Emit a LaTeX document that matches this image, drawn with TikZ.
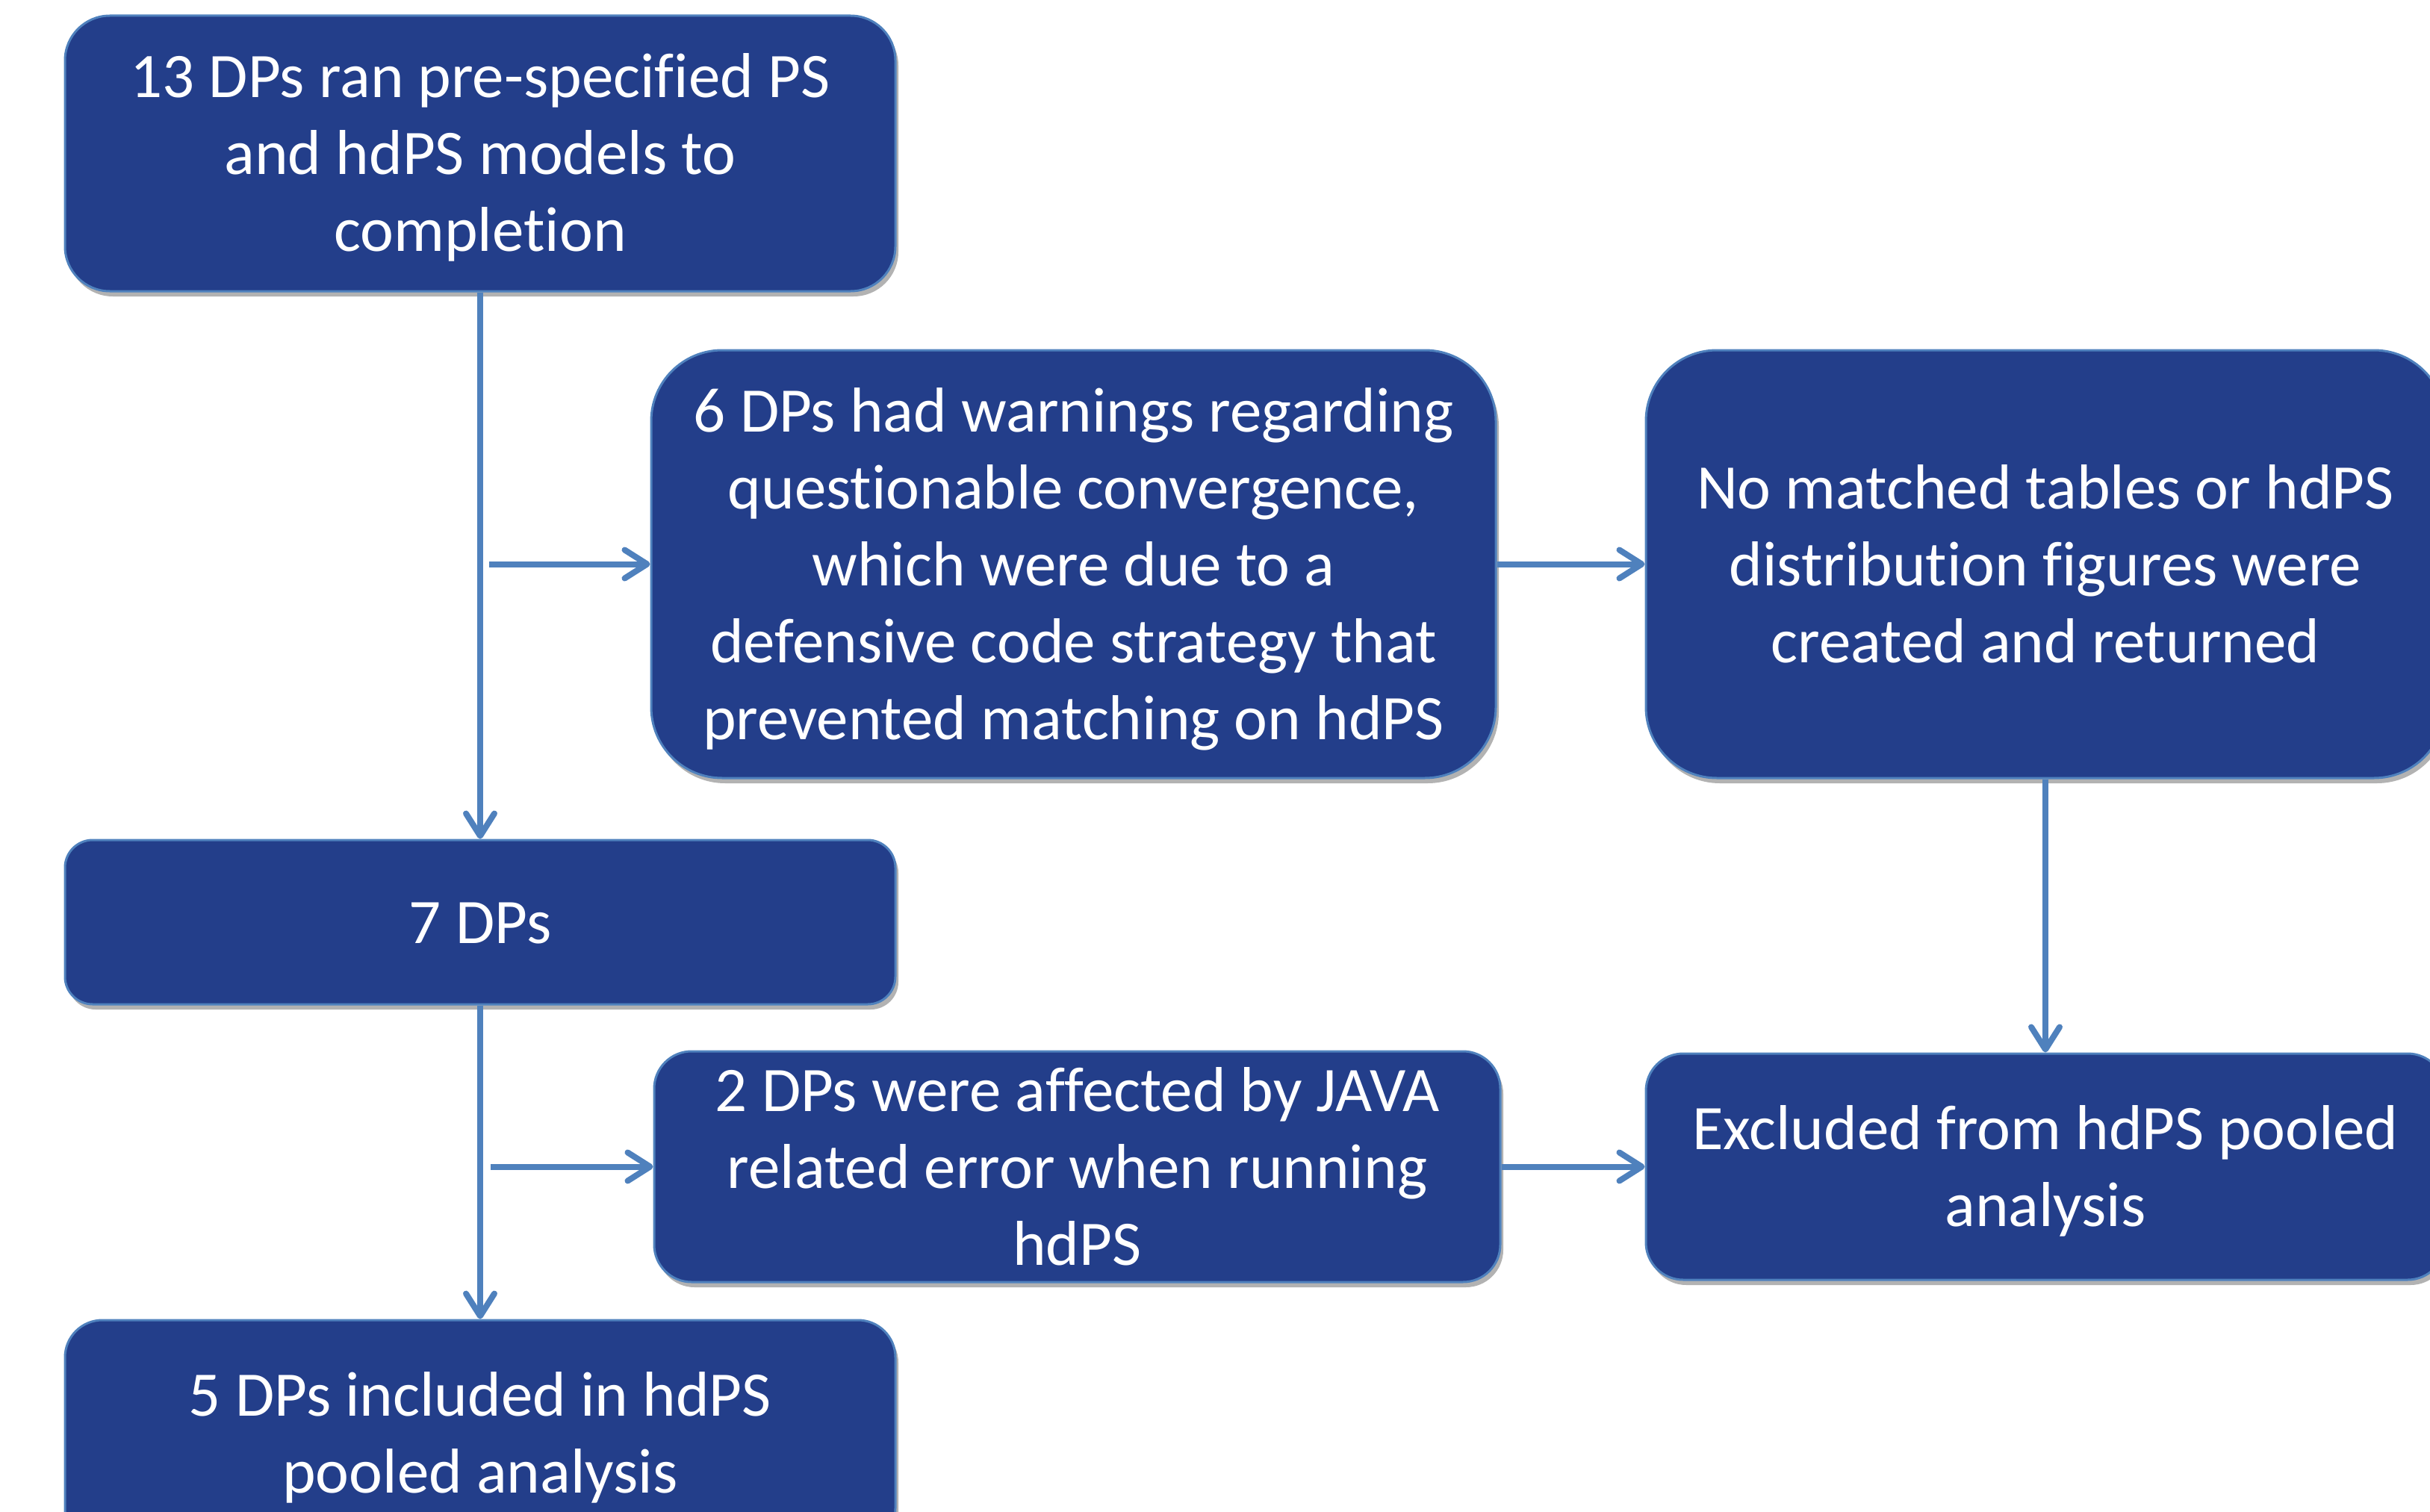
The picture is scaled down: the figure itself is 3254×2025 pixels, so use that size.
\documentclass[tikz,border=0pt]{standalone}
\usepackage{fontspec}
\setmainfont{Carlito}[Ligatures={NoCommon}]
\usetikzlibrary{arrows.meta,shadows}
\definecolor{boxblue}{HTML}{233E8A}
\definecolor{lineblue}{HTML}{4F81BD}
\newcommand{\hiStrut}{\rule{0pt}{80pt}}
\newcommand{\loStrut}{\rule[-23pt]{0pt}{23pt}}
\tikzset{
  flowbox/.style={rectangle, fill=boxblue, draw=lineblue, line width=3pt,
    text=white, align=center, inner sep=0pt,
    font=\fontsize{85}{103}\selectfont,
    drop shadow={shadow xshift=4pt, shadow yshift=-7pt, opacity=0.3, fill=black}},
  flowarrow/.style={draw=lineblue, line width=8pt,
    -{Straight Barb[length=30pt,width=38pt,round]}}
}
\begin{document}
\begin{tikzpicture}[x=1pt,y=-1pt]
\useasboundingbox (0,0) rectangle (3254,2025);
\clip (0,0) rectangle (3254,2025);
\node[flowbox, minimum width=1112pt, minimum height=369pt, rounded corners=60pt] (A) at (643,205.5)
  {\hiStrut 13 DPs ran pre-specified PS\\and hdPS models to\\completion\loStrut};
\node[flowbox, minimum width=1131pt, minimum height=573pt, rounded corners=95pt] (B) at (1437.5,755.5)
  {\hiStrut 6 DPs had warnings regarding\\questionable convergence,\\which were due to a\\defensive code strategy that\\prevented matching on hdPS\loStrut};
\node[flowbox, minimum width=1070pt, minimum height=573pt, rounded corners=95pt] (C) at (2739,755.5)
  {\hiStrut No matched tables or hdPS\\distribution figures were\\created and returned\loStrut};
\node[flowbox, minimum width=1112pt, minimum height=220pt, rounded corners=37pt] (D) at (643,1235)
  {\hiStrut 7 DPs\loStrut};
\node[flowbox, minimum width=1133pt, minimum height=303pt, rounded corners=50pt] (E) at (1442.5,1562.5)
  {\hiStrut 2 DPs were affected by JAVA\\related error when running\\hdPS\loStrut};
\node[flowbox, minimum width=1070pt, minimum height=303pt, rounded corners=50pt] (F) at (2739,1562.5)
  {\hiStrut Excluded from hdPS pooled\\analysis\loStrut};
\node[flowbox, minimum width=1112pt, minimum height=302pt, rounded corners=50pt] (G) at (643,1919)
  {\hiStrut 5 DPs included in hdPS\\pooled analysis\loStrut};
\coordinate (b1) at (655,755.5);
\coordinate (b2) at (657,1562.5);
\draw[flowarrow] (A.south) -- (D.north);
\draw[flowarrow] (D.south) -- (G.north);
\draw[flowarrow] (b1) -- (B.west);
\draw[flowarrow] (b2) -- (E.west);
\draw[flowarrow] (B.east) -- (C.west);
\draw[flowarrow] (E.east) -- (F.west);
\draw[flowarrow] (C.south) -- (F.north);
\end{tikzpicture}
\end{document}
